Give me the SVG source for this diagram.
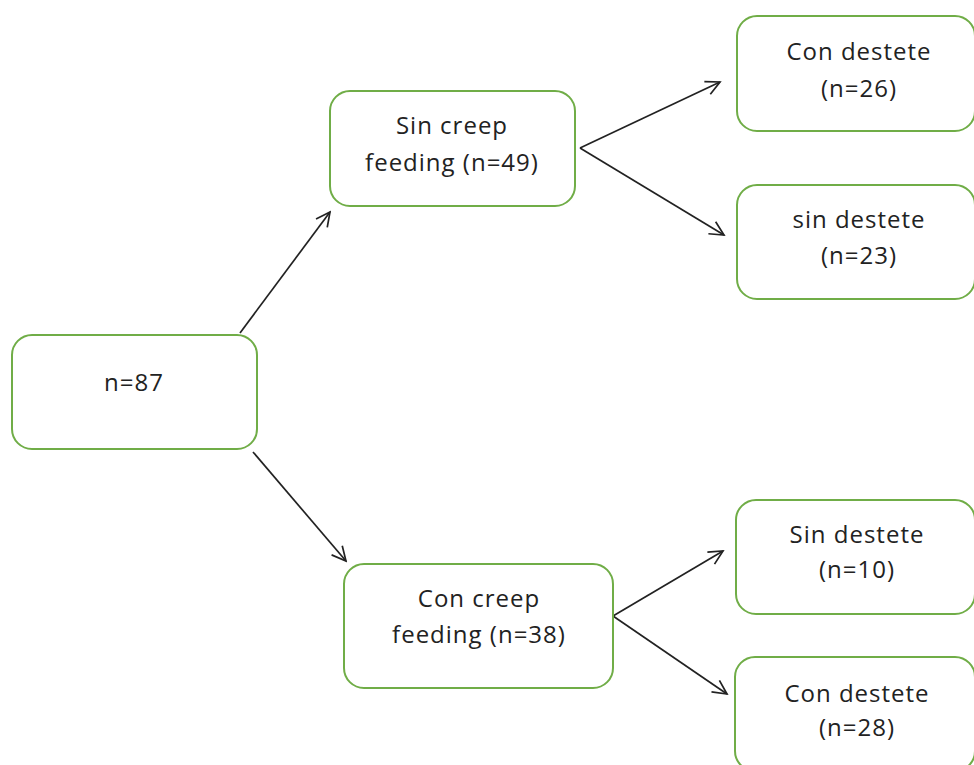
<svg xmlns="http://www.w3.org/2000/svg" width="974" height="765" viewBox="0 0 974 765">
<defs>
<style>
.box{fill:#fff;stroke:#70AD47;stroke-width:2}
.t{font-family:"Open Sans","Liberation Sans",sans-serif;font-size:24px;fill:#222;text-anchor:middle;letter-spacing:1px}
.c{stroke:#222;stroke-width:1.7;fill:none}
</style>
<marker id="ah" viewBox="0 0 20 20" refX="18" refY="10" markerWidth="20" markerHeight="20" markerUnits="userSpaceOnUse" orient="auto">
<path d="M4,3 L18,10 L4,17" fill="none" stroke="#222" stroke-width="1.7"/>
</marker>
</defs>
<rect width="974" height="765" fill="#fff"/>
<g id="connectors">
<line class="c" x1="240" y1="333" x2="330" y2="212" marker-end="url(#ah)"/>
<line class="c" x1="253" y1="452" x2="346" y2="561" marker-end="url(#ah)"/>
<line class="c" x1="580" y1="148" x2="720" y2="82" marker-end="url(#ah)"/>
<line class="c" x1="580" y1="148" x2="724" y2="235" marker-end="url(#ah)"/>
<line class="c" x1="613" y1="616" x2="723" y2="551" marker-end="url(#ah)"/>
<line class="c" x1="613" y1="616" x2="727" y2="694" marker-end="url(#ah)"/>
</g>
<g id="n87">
<rect class="box" x="12" y="335" width="245" height="114" rx="20"/>
<text class="t" x="134" y="391">n=87</text>
</g>
<g id="sin-creep">
<rect class="box" x="330" y="91" width="245" height="115" rx="20"/>
<text class="t" x="452" y="134">Sin creep</text>
<text class="t" x="452" y="171">feeding (n=49)</text>
</g>
<g id="con-creep">
<rect class="box" x="344" y="564" width="269" height="124" rx="20"/>
<text class="t" x="479" y="607">Con creep</text>
<text class="t" x="479" y="643">feeding (n=38)</text>
</g>
<g id="con-destete-26">
<rect class="box" x="737" y="16" width="238" height="115" rx="20"/>
<text class="t" x="859" y="60">Con destete</text>
<text class="t" x="859" y="97">(n=26)</text>
</g>
<g id="sin-destete-23">
<rect class="box" x="737" y="185" width="238" height="114" rx="20"/>
<text class="t" x="859" y="228">sin destete</text>
<text class="t" x="859" y="264">(n=23)</text>
</g>
<g id="sin-destete-10">
<rect class="box" x="736" y="500" width="239" height="114" rx="20"/>
<text class="t" x="857" y="543">Sin destete</text>
<text class="t" x="857" y="578">(n=10)</text>
</g>
<g id="con-destete-28">
<rect class="box" x="735" y="657" width="240" height="114" rx="20"/>
<text class="t" x="857" y="702">Con destete</text>
<text class="t" x="857" y="736">(n=28)</text>
</g>
</svg>
